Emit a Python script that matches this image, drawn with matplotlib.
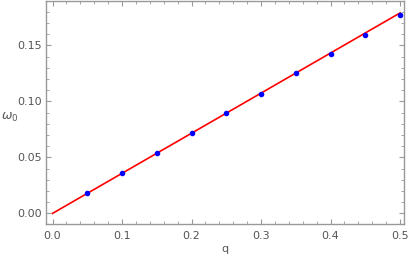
import numpy as np
import matplotlib.pyplot as plt
from matplotlib.ticker import MultipleLocator, FormatStrFormatter

# sampled points
q = [0.05, 0.10, 0.15, 0.20, 0.25, 0.30, 0.35, 0.40, 0.45, 0.50]
omega0 = [0.018, 0.036, 0.054, 0.072, 0.090, 0.107, 0.125, 0.142, 0.159, 0.177]

# linear fit line end points
fit_q = [0.0, 0.5]
fit_w = [0.0, 0.179]

gray = '#999999'
txt = '#555555'

fig = plt.figure(figsize=(4.09, 2.6), dpi=100)
ax = fig.add_axes([0.1125, 0.137, 0.8755, 0.859])

ax.plot(fit_q, fit_w, color='red', linewidth=1.2, zorder=2)
ax.plot(q, omega0, 'o', color='blue', markersize=3, zorder=3)

ax.set_xlim(-0.0094, 0.5058)
ax.set_ylim(-0.0098, 0.1896)

ax.xaxis.set_major_locator(MultipleLocator(0.1))
ax.xaxis.set_minor_locator(MultipleLocator(0.02))
ax.yaxis.set_major_locator(MultipleLocator(0.05))
ax.yaxis.set_minor_locator(MultipleLocator(0.01))
ax.xaxis.set_major_formatter(FormatStrFormatter('%.1f'))
ax.yaxis.set_major_formatter(FormatStrFormatter('%.2f'))

for s in ax.spines.values():
    s.set_color(gray)
    s.set_linewidth(1.0)

ax.tick_params(which='both', direction='in', color=gray, labelcolor=txt,
               labelsize=8, top=True, right=True)
ax.tick_params(which='major', length=3.5, width=0.8)
ax.tick_params(which='minor', length=2, width=0.6)
ax.tick_params(axis='x', pad=5)
ax.tick_params(axis='y', pad=3)

ax.set_xlabel('q', color=txt, fontsize=8, labelpad=2)
ax.set_ylabel(r'$\omega_0$', color=txt, fontsize=9, rotation=0,
              va='center', ha='center')
ax.yaxis.set_label_coords(-0.1, 0.48)

fig.savefig('out.png', dpi=100)
